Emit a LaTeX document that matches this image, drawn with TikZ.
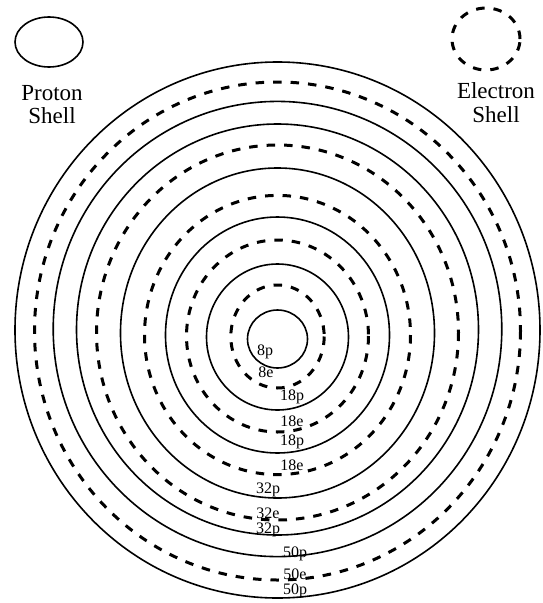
\documentclass[tikz,border=0pt]{standalone}
\usepackage{fontspec}
\setmainfont{Liberation Serif}
\usetikzlibrary{shapes.geometric, positioning}

\begin{document}
\begin{tikzpicture}[
    x=1pt, y=-1pt,
    pshell/.style={draw, line width=1.6pt},
    eshell/.style={draw, line width=3pt, dash pattern=on 8.5pt off 9pt},
    legend/.style={font=\fontsize{23}{23.5}\selectfont, align=center},
    count/.style={font=\fontsize{16}{16}\selectfont, anchor=base, inner sep=0pt}
]
\useasboundingbox (0,0) rectangle (543,603);

% Legend
\node[pshell, ellipse, minimum width=68pt, minimum height=50pt] (protonkey) at (49,42) {};
\node[legend, below=14pt of protonkey, xshift=3pt] (protontext) {Proton\\Shell};
\node[eshell, ellipse, minimum width=68pt, minimum height=62pt] (electronkey) at (486,39) {};
\node[legend, below=8pt of electronkey, xshift=10pt] (electrontext) {Electron\\Shell};

% Proton shells
\foreach \rx/\ry/\cy in {30/29/339, 71/73/337, 112/118/335, 157/165/333,
                         201/205.5/329.5, 224.3/227.6/329, 262.5/268/330}
    \draw[pshell] (277.5,\cy) ellipse [x radius=\rx, y radius=\ry];

% Electron shells
\foreach \rx/\ry/\cy in {46.7/51.5/336.5, 91/96/336, 133/139.6/335,
                         181/187.5/332.5, 243/249/331}
    \draw[eshell] (277.5,\cy) ellipse [x radius=\rx, y radius=\ry];

% Shell counts
\node[count] (p8) at (265,355) {8p};
\node[count] (e8) at (266,377) {8e};
\node[count] (p18a) at (292,400) {18p};
\node[count] (e18a) at (292,426) {18e};
\node[count] (p18b) at (292,445) {18p};
\node[count] (e18b) at (292,470) {18e};
\node[count] (p32a) at (268,493) {32p};
\node[count] (e32) at (268,518) {32e};
\node[count] (p32b) at (268,533) {32p};
\node[count] (p50a) at (295,557) {50p};
\node[count] (e50) at (295,579) {50e};
\node[count] (p50b) at (295,594) {50p};

\end{tikzpicture}
\end{document}
